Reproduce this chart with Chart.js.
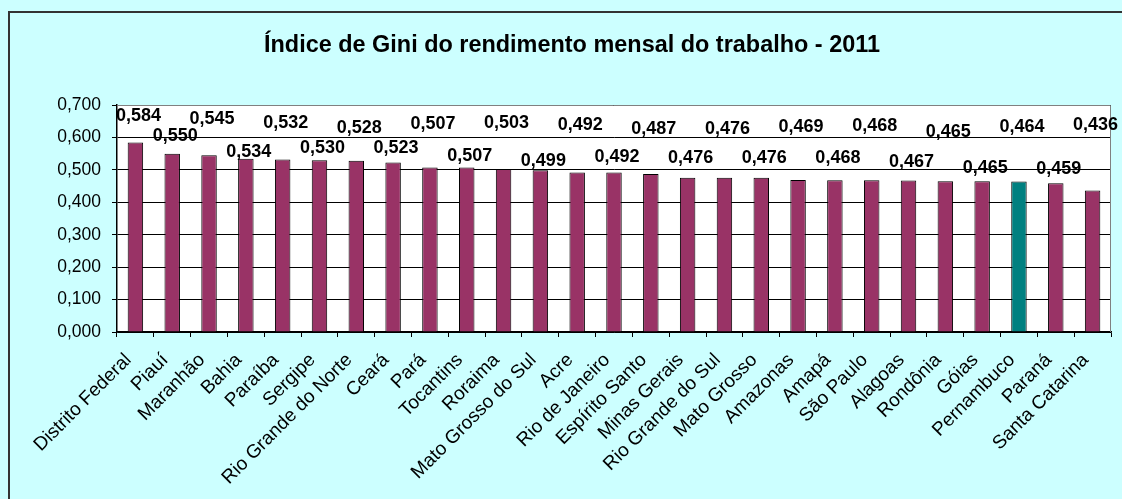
<!DOCTYPE html>
<html>
<head>
<meta charset="utf-8">
<script src="https://cdn.jsdelivr.net/npm/chart.js@4/dist/chart.umd.min.js"></script>
<style>
  html, body { margin: 0; padding: 0; background: #CCFFFF; overflow: hidden; }
  #wrap { width: 1122px; height: 499px; }
</style>
</head>
<body>
<div id="wrap"><canvas id="c" width="1122" height="499"></canvas></div>
<script>
const categories = ["Distrito Federal","Piauí","Maranhão","Bahia","Paraíba","Sergipe","Rio Grande do Norte","Ceará","Pará","Tocantins","Roraima","Mato Grosso do Sul","Acre","Rio de Janeiro","Espírito Santo","Minas Gerais","Rio Grande do Sul","Mato Grosso","Amazonas","Amapá","São Paulo","Alagoas","Rondônia","Góias","Pernambuco","Paraná","Santa Catarina"];
const giniValues = [0.584,0.550,0.545,0.534,0.532,0.530,0.528,0.523,0.507,0.507,0.503,0.499,0.492,0.492,0.487,0.476,0.476,0.476,0.469,0.468,0.468,0.467,0.465,0.465,0.464,0.459,0.436];
const highlightCategory = "Pernambuco";
const yTicks = [0,0.1,0.2,0.3,0.4,0.5,0.6,0.7];
const titleText = "Índice de Gini do rendimento mensal do trabalho - 2011";

const FONT = "'Liberation Sans', Arial, sans-serif";
const fmt = v => v.toFixed(3).replace('.', ',');

// label lift above bar top (px), style config for the staggered data labels
const labelLift = [27,18,36,7,36,12,33,14,44,12,46,9,47,15,45,20,49,20,53,22,54,19,49,13,55,14,66];

const bgPlugin = {
  id: 'bg',
  beforeDraw(chart) {
    const ctx = chart.ctx, a = chart.chartArea;
    ctx.save();
    ctx.fillStyle = '#CCFFFF';
    ctx.fillRect(0, 0, chart.width, chart.height);
    ctx.fillStyle = '#FFFFFF';
    ctx.fillRect(a.left, a.top, a.right - a.left, a.bottom - a.top);
    ctx.strokeStyle = '#333333';
    ctx.lineWidth = 2;
    ctx.beginPath();
    ctx.moveTo(9, chart.height + 5);
    ctx.lineTo(9, 12);
    ctx.lineTo(chart.width + 5, 12);
    ctx.stroke();
    // title
    ctx.fillStyle = '#000';
    ctx.font = "bold 23px " + FONT;
    ctx.textAlign = 'center';
    ctx.textBaseline = 'alphabetic';
    const w = ctx.measureText(titleText).width;
    const target = 616;
    ctx.translate(572, 52);
    ctx.scale(target / w, 1);
    ctx.fillText(titleText, 0, 0);
    ctx.restore();
  },
  afterDraw(chart) {
    const ctx = chart.ctx, a = chart.chartArea;
    ctx.save();
    ctx.strokeStyle = '#808080';
    ctx.lineWidth = 1;
    ctx.beginPath();
    ctx.moveTo(a.left, a.top + 0.5);
    ctx.lineTo(a.right - 0.5, a.top + 0.5);
    ctx.lineTo(a.right - 0.5, a.bottom);
    ctx.stroke();
    // data labels
    const meta = chart.getDatasetMeta(0);
    ctx.fillStyle = '#000';
    ctx.font = "bold 18px " + FONT;
    ctx.textAlign = 'center';
    ctx.textBaseline = 'middle';
    meta.data.forEach((bar, i) => {
      const v = chart.data.datasets[0].data[i];
      ctx.fillText(fmt(v), bar.x + 3, bar.y - labelLift[i]);
    });
    ctx.restore();
  }
};

new Chart(document.getElementById('c'), {
  type: 'bar',
  data: {
    labels: categories,
    datasets: [{
      data: giniValues,
      backgroundColor: categories.map(c => c === highlightCategory ? '#008080' : '#993366'),
      borderColor: '#000000',
      borderWidth: 1,
      barPercentage: 0.42,
      categoryPercentage: 1.0
    }]
  },
  options: {
    responsive: false,
    animation: false,
    devicePixelRatio: 1,
    layout: { padding: { left: 0, right: 11, top: 105, bottom: 0 } },
    plugins: { legend: { display: false }, title: { display: false }, tooltip: { enabled: false } },
    scales: {
      x: {
        offset: true,
        grid: { offset: true, drawOnChartArea: false, drawTicks: true, tickLength: 5, color: '#000', lineWidth: 1 },
        border: { color: '#000', width: 1.5 },
        ticks: { color: '#000', font: { family: FONT, size: 19 }, minRotation: 45, maxRotation: 45, autoSkip: false, padding: 12, labelOffset: -7 },
        afterFit(s) { s.height = 167; }
      },
      y: {
        min: 0, max: 0.7,
        afterBuildTicks(s) { s.ticks = yTicks.map(v => ({ value: v })); },
        grid: { color: '#000', lineWidth: 1, drawTicks: true, tickLength: 5 },
        border: { color: '#000', width: 1.5 },
        ticks: { color: '#000', font: { family: FONT, size: 17.5 }, padding: 11, callback: v => fmt(v) },
        afterFit(s) { s.width = 117; }
      }
    }
  },
  plugins: [bgPlugin]
});
</script>
</body>
</html>
